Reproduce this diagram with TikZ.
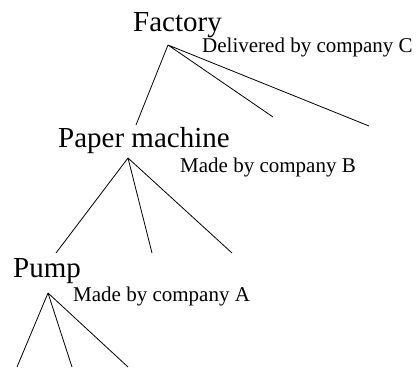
\documentclass[tikz,border=0pt]{standalone}
\usepackage{fontspec}
\setmainfont{Liberation Serif}
\begin{document}
\begin{tikzpicture}[x=1pt,y=-1pt,
  big/.style={anchor=base west,inner sep=0pt,font=\fontsize{29}{32}\selectfont},
  small/.style={anchor=base west,inner sep=0pt,font=\fontsize{21}{24}\selectfont},
  edge/.style={line width=0.8pt}]
\useasboundingbox (0,0) rectangle (416,371);
% labels
\node[big] (factory) at (133,32) {Factory};
\node[small] (delivC) at (202,53) {Delivered by company C};
\node[big] (paper) at (58,148) {Paper machine};
\node[small] (madeB) at (180,173) {Made by company B};
\node[big] (pump) at (13,278) {Pump};
\node[small] (madeA) at (73,302) {Made by company A};
% apexes
\coordinate (fa) at (168,45);
\coordinate (pa) at (128,158);
\coordinate (ua) at (48,293);
% ends
\coordinate (f1) at (136,125);
\coordinate (f2) at (273,117);
\coordinate (f3) at (369,126);
\coordinate (p1) at (56,253);
\coordinate (p2) at (152,253);
\coordinate (p3) at (232,253);
\coordinate (u1) at (17,367);
\coordinate (u2) at (72,367);
\coordinate (u3) at (128,367);
\draw[edge] (fa) -- (f1) (fa) -- (f2) (fa) -- (f3);
\draw[edge] (pa) -- (p1) (pa) -- (p2) (pa) -- (p3);
\draw[edge] (ua) -- (u1) (ua) -- (u2) (ua) -- (u3);
\end{tikzpicture}
\end{document}
